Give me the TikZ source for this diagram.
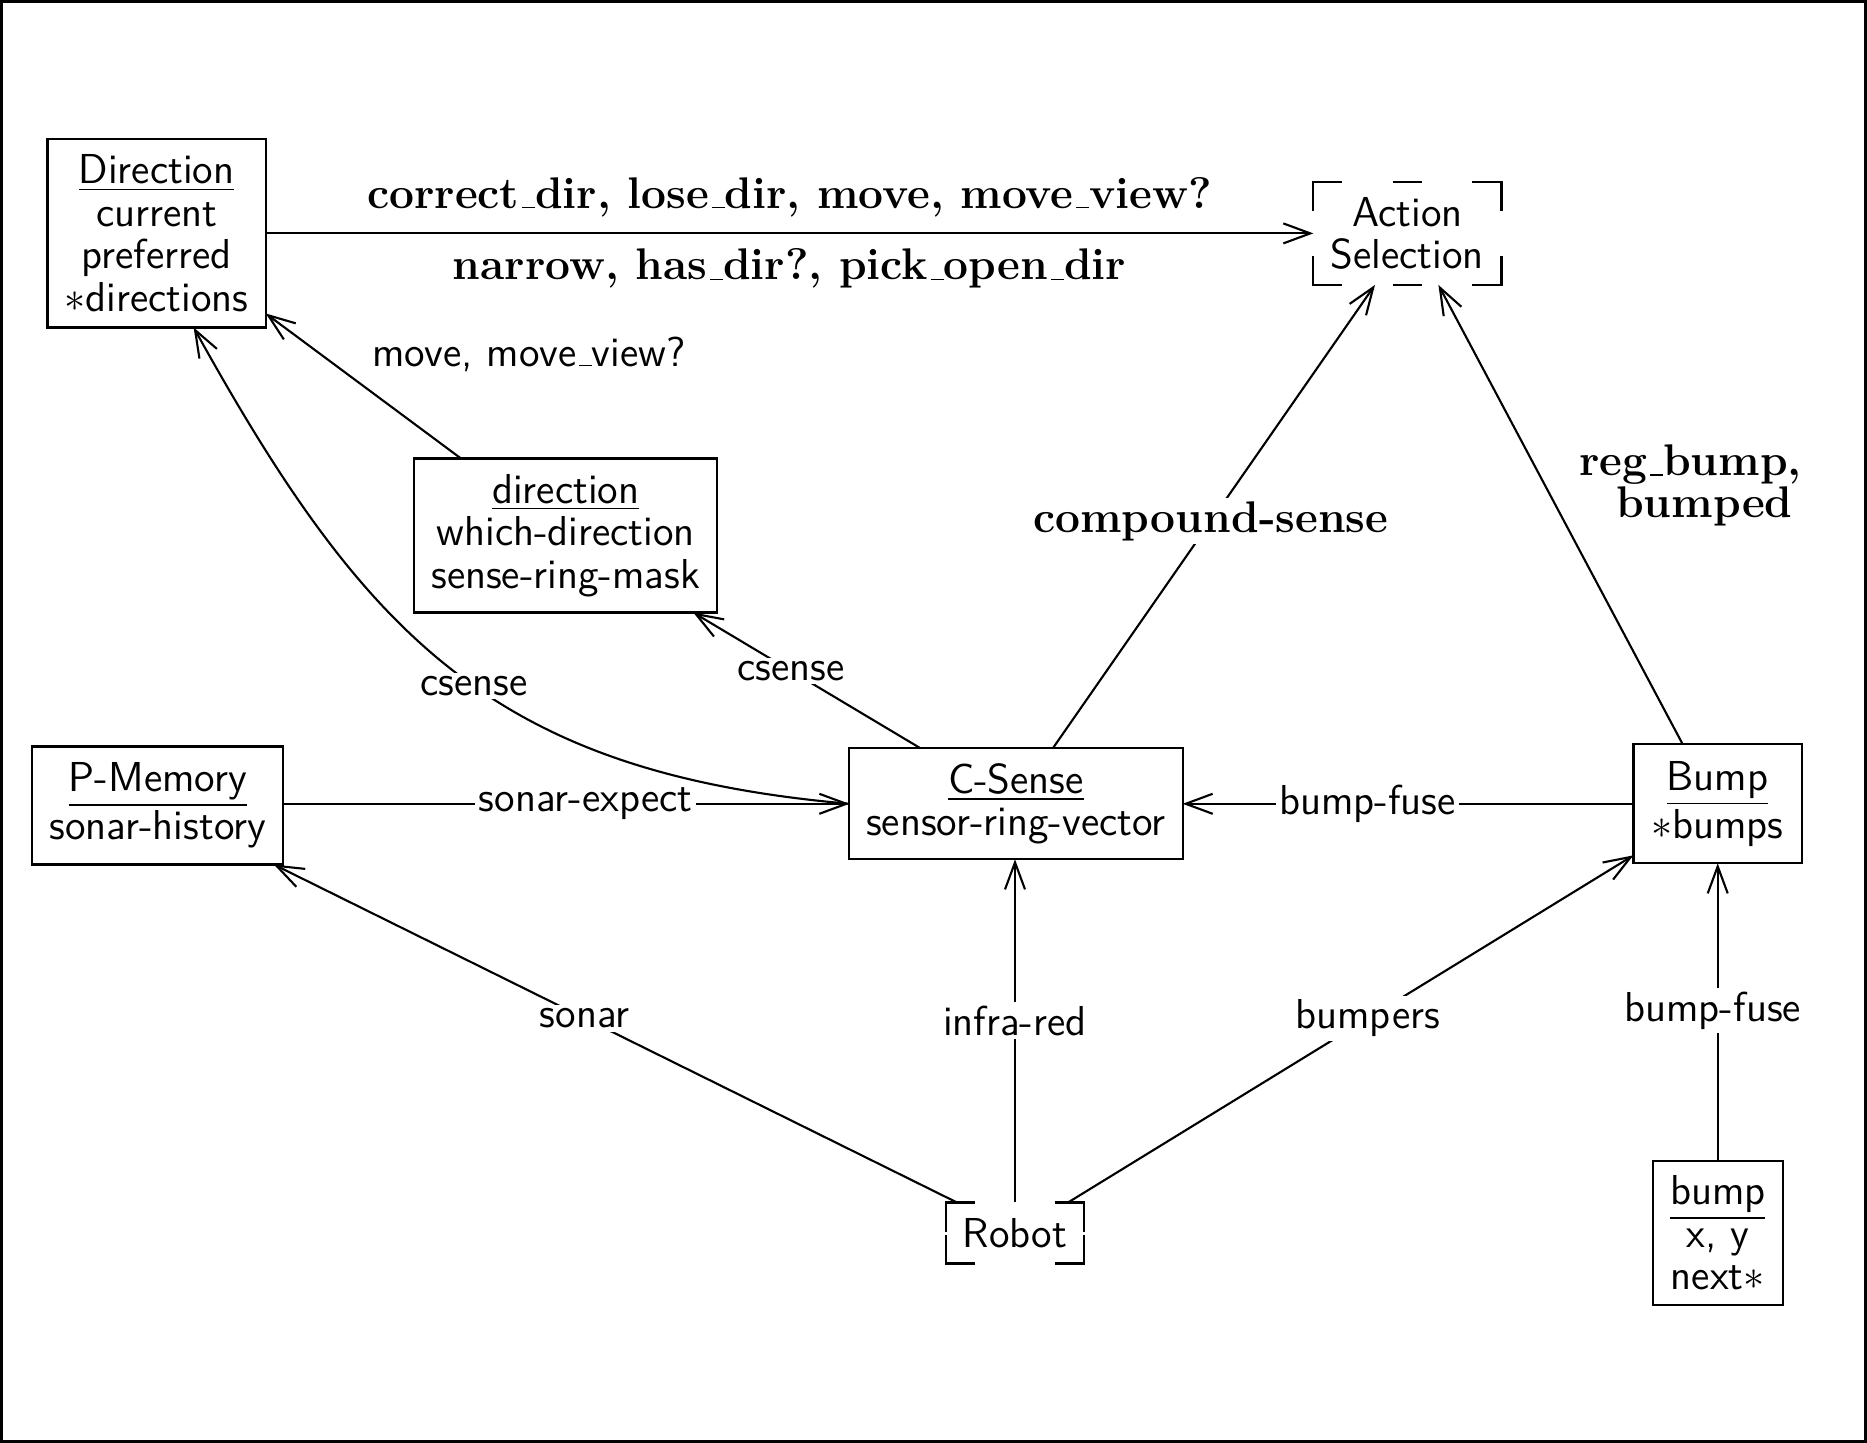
\documentclass[tikz,border=0pt]{standalone}
\usetikzlibrary{arrows.meta,calc}

% open bracket corners around a node: #1 node name, #2 arm length
\newcommand\bracketbox[2]{%
  \draw[thinline] ($(#1.north west)+(0,-#2)$) -- (#1.north west) -- ($(#1.north west)+(#2,0)$);
  \draw[thinline] ($(#1.north east)+(0,-#2)$) -- (#1.north east) -- ($(#1.north east)+(-#2,0)$);
  \draw[thinline] ($(#1.south west)+(0,#2)$) -- (#1.south west) -- ($(#1.south west)+(#2,0)$);
  \draw[thinline] ($(#1.south east)+(0,#2)$) -- (#1.south east) -- ($(#1.south east)+(-#2,0)$);
}
% short rule underscore for the labels
\newcommand\rul{\leavevmode\kern.06em\vbox{\hrule width.3em}}

\begin{document}
\begin{tikzpicture}[x=0.01cm,y=-0.01cm,
  thinline/.style={line width=0.6pt},
  base/.style={font=\fontsize{11.9}{12.1}\selectfont\sffamily},
  box/.style={base, draw, thinline, inner sep=0pt, outer sep=0pt, align=center},
  plainbox/.style={base, inner sep=0pt, outer sep=0pt, align=center},
  conn/.style={thinline, -{Straight Barb[length=0.27cm,width=0.2cm,line width=0.6pt]}},
  lbl/.style={base, fill=white, inner sep=1pt},
  blbl/.style={font=\fontsize{12.6}{11.9}\selectfont\rmfamily\bfseries, inner sep=1pt},
]
\useasboundingbox (0,0) rectangle (1867,1443);
\draw[line width=0.85pt] (1.5,1.5) rectangle (1865.5,1441.5);

% ---- nodes ----
\node[box, minimum width=2.18cm, minimum height=1.88cm] (Dir) at (156.6,233.4)
  {\underline{Direction}\\current\\preferred\\$\ast$directions};
\node[plainbox, minimum width=1.88cm, minimum height=1.03cm] (AS) at (1407.4,233.4)
  {Action\\Selection};
\node[box, minimum width=3.03cm, minimum height=1.54cm] (dr) at (565.7,535.5)
  {\underline{direction}\\which-direction\\sense-ring-mask};
\node[box, minimum width=2.51cm, minimum height=1.18cm] (PM) at (157.8,805.5)
  {\underline{P-Memory}\\sonar-history};
\node[box, minimum width=3.33cm, minimum height=1.11cm] (CS) at (1016,803.8)
  {\underline{C-Sense}\\sensor-ring-vector};
\node[box, minimum width=1.68cm, minimum height=1.19cm] (Bp) at (1717.5,803.8)
  {\underline{Bump}\\$\ast$bumps};
\node[box, minimum width=1.30cm, minimum height=1.44cm] (bp) at (1717.7,1233)
  {\underline{bump}\\x, y\\next$\ast$};
\node[plainbox, minimum width=1.38cm, minimum height=0.61cm] (Rb) at (1015,1233)
  {Robot};

% bracket frames of the two open boxes
\bracketbox{AS}{0.29cm}
\draw[thinline] ($(AS.north)+(-0.145cm,0)$) -- ($(AS.north)+(0.145cm,0)$);
\draw[thinline] ($(AS.south)+(-0.145cm,0)$) -- ($(AS.south)+(0.145cm,0)$);
\bracketbox{Rb}{0.29cm}

% ---- connectors ----
\draw[conn] (Dir) -- (AS)
  node[blbl, midway, above=0.12cm] {correct\rul dir, lose\rul dir, move, move\rul view?}
  node[blbl, midway, below=0.11cm] {narrow, has\rul dir?, pick\rul open\rul dir};

\draw[conn] ([xshift=0.468cm]dr.north west) -- ([yshift=0.14cm]Dir.south east)
  node[base, pos=0.5, anchor=west, xshift=-0.04cm, yshift=0.32cm] {move, move\rul view?};

\draw[conn] (CS.west) to[out=175, in=-61, looseness=1.12]
  node[lbl, pos=0.465] {csense} ([xshift=0.37cm]Dir.south);

\draw[conn] ([xshift=0.71cm]CS.north west) -- ([xshift=-0.24cm]dr.south east)
  node[lbl, pos=0.57] {csense};

\draw[conn] (PM.east |- CS.west) -- (CS.west)
  node[lbl, pos=0.534] {sonar-expect};

\draw[conn] (Bp.west) -- (CS.east)
  node[lbl, pos=0.59] {bump-fuse};

\draw[conn] ([xshift=2.033cm]CS.north west) -- ([xshift=0.616cm]AS.south west)
  node[blbl, fill=white, pos=0.49] {compound-sense};

\draw[conn] ([xshift=0.492cm]Bp.north west) -- ([xshift=1.25cm]AS.south west)
  node[blbl, pos=0.57, anchor=west, xshift=0.31cm, yshift=-0.03cm, align=right]
  {reg\rul bump,\\bumped\kern0.2em};

\draw[conn] ([xshift=0.11cm]Rb.north west) -- ([xshift=-0.095cm]PM.south east)
  node[lbl, pos=0.545] {sonar};

\draw[conn] (Rb.north) -- (Rb.north |- CS.south)
  node[lbl, pos=0.53] {infra-red};

\draw[conn] ([xshift=-0.16cm]Rb.north east) -- ([yshift=0.08cm]Bp.south west)
  node[lbl, pos=0.53] {bumpers};

\draw[conn] (bp.north) -- (bp.north |- Bp.south)
  node[lbl, pos=0.505, xshift=-0.05cm] {bump-fuse};
\end{tikzpicture}
\end{document}
